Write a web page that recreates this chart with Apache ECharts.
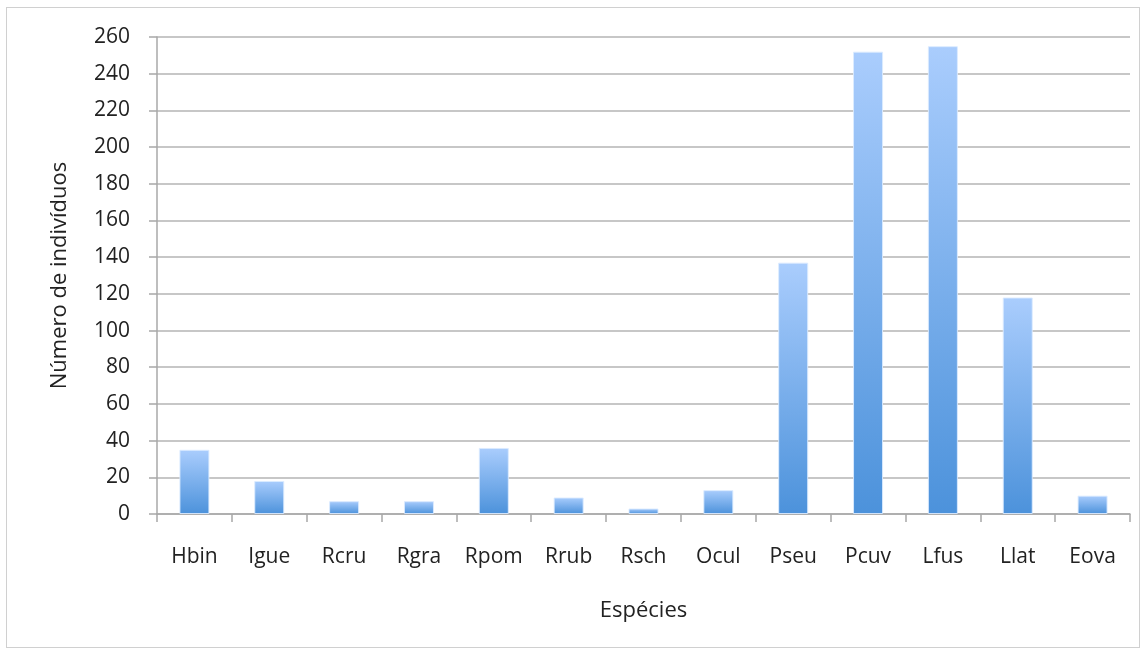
<!DOCTYPE html>
<html lang="pt">
<head>
    <meta charset="UTF-8">
    <title>Número de indivíduos por espécie</title>
    <style>
        * { margin: 0; padding: 0; box-sizing: border-box; }
        body { background: #fff; }
        #chart {
            position: absolute;
            left: 6px; top: 7px;
            width: 1134px; height: 641px;
            border: 1px solid #d0d0d0;
        }
    </style>
    <script src="https://cdn.jsdelivr.net/npm/echarts@6/dist/echarts.min.js"></script>
</head>
<body>
    <div id="chart"></div>
    <script>
        // dados
        const especies = ['Hbin', 'Igue', 'Rcru', 'Rgra', 'Rpom', 'Rrub', 'Rsch', 'Ocul', 'Pseu', 'Pcuv', 'Lfus', 'Llat', 'Eova'];
        const individuos = [35, 18, 7, 7, 36, 9, 3, 13, 137, 252, 255, 118, 10];
        const yTicks = { min: 0, max: 260, interval: 20 };

        const chart = echarts.init(document.getElementById('chart'));
        const font = '"Open Sans", sans-serif';

        chart.setOption({
            animation: false,
            grid: { left: 150, right: 9, top: 29, bottom: 133 },
            xAxis: {
                type: 'category',
                data: especies,
                name: 'Espécies',
                nameLocation: 'middle',
                nameGap: 86,
                nameTextStyle: { fontFamily: font, fontSize: 22, color: '#222' },
                axisLine: { lineStyle: { color: '#a8a8a8', width: 1.5 } },
                axisTick: { show: true, interval: 0, length: 8, alignWithLabel: false, lineStyle: { color: '#a8a8a8', width: 1.5 } },
                axisLabel: { interval: 0, hideOverlap: false, fontFamily: font, fontSize: 21, color: '#222', margin: 33 }
            },
            yAxis: {
                type: 'value',
                min: yTicks.min,
                max: yTicks.max,
                interval: yTicks.interval,
                name: 'Número de indivíduos',
                nameLocation: 'middle',
                nameGap: 86,
                nameTextStyle: { fontFamily: font, fontSize: 22, color: '#222' },
                axisLine: { show: true, lineStyle: { color: '#a8a8a8', width: 1.5 } },
                axisTick: { show: true, length: 8, lineStyle: { color: '#a8a8a8', width: 1.5 } },
                axisLabel: { fontFamily: font, fontSize: 21, color: '#222', margin: 27 },
                splitLine: { lineStyle: { color: '#b4b4b4', width: 1.5 } }
            },
            series: [{
                type: 'bar',
                data: individuos,
                barWidth: 30,
                itemStyle: {
                    color: new echarts.graphic.LinearGradient(0, 0, 0, 1, [
                        { offset: 0, color: '#aacdfd' },
                        { offset: 1, color: '#4c92db' }
                    ]),
                    borderColor: 'rgba(220,235,255,0.9)',
                    borderWidth: 1
                }
            }]
        });
    </script>
</body>
</html>
